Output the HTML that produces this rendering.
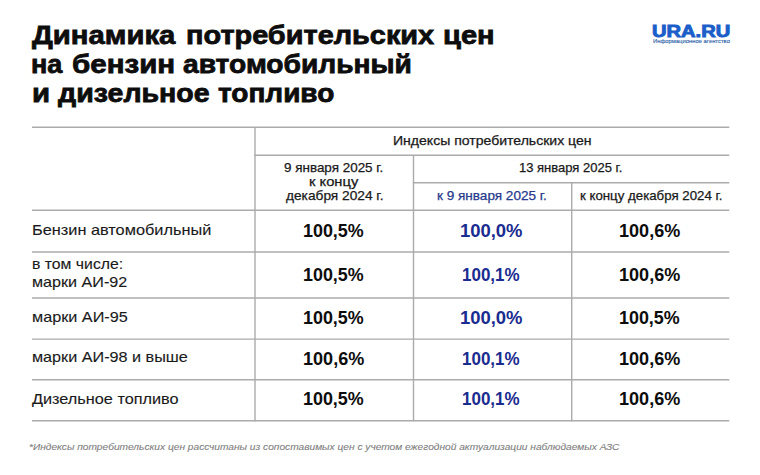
<!DOCTYPE html>
<html><head><meta charset="utf-8"><style>
html,body{margin:0;padding:0;background:#fff;}
body{width:760px;height:475px;position:relative;overflow:hidden;font-family:"Liberation Sans", sans-serif;}
.t{position:absolute;white-space:nowrap;transform-origin:0 0;}
.grid{position:absolute;left:0;top:0;}
.grid line{stroke:#ababab;stroke-width:1.4;}
</style></head><body>
<svg class="grid" width="760" height="475" viewBox="0 0 760 475">
<line x1="32" y1="127.3" x2="729.3" y2="127.3"/>
<line x1="254.3" y1="155.3" x2="729.3" y2="155.3"/>
<line x1="412.8" y1="182.7" x2="729.3" y2="182.7"/>
<line x1="32" y1="210.3" x2="729.3" y2="210.3"/>
<line x1="32" y1="252.0" x2="729.3" y2="252.0"/>
<line x1="32" y1="298.0" x2="729.3" y2="298.0"/>
<line x1="32" y1="339.1" x2="729.3" y2="339.1"/>
<line x1="32" y1="379.7" x2="729.3" y2="379.7"/>
<line x1="32" y1="420.7" x2="729.3" y2="420.7"/>
<line x1="255.0" y1="127.0" x2="255.0" y2="421.4"/>
<line x1="413.5" y1="155.0" x2="413.5" y2="421.4"/>
<line x1="571.7" y1="182.4" x2="571.7" y2="421.4"/>
</svg>
<div id="t1a" class="t" style="left:32.40px;top:21.87px;font-size:26.5px;line-height:26.5px;font-weight:700;font-style:normal;color:#0d0d0d;transform:scaleX(1.1046);-webkit-text-stroke:0.8px #0d0d0d">Динамика</div>
<div id="t1b" class="t" style="left:185.80px;top:21.87px;font-size:26.5px;line-height:26.5px;font-weight:700;font-style:normal;color:#0d0d0d;transform:scaleX(1.0903);-webkit-text-stroke:0.8px #0d0d0d">потребительских</div>
<div id="t1c" class="t" style="left:443.20px;top:21.87px;font-size:26.5px;line-height:26.5px;font-weight:700;font-style:normal;color:#0d0d0d;transform:scaleX(1.0978);-webkit-text-stroke:0.8px #0d0d0d">цен</div>
<div id="t2a" class="t" style="left:31.20px;top:50.57px;font-size:26.5px;line-height:26.5px;font-weight:700;font-style:normal;color:#0d0d0d;transform:scaleX(1.0195);-webkit-text-stroke:0.8px #0d0d0d">на</div>
<div id="t2b" class="t" style="left:72.20px;top:50.57px;font-size:26.5px;line-height:26.5px;font-weight:700;font-style:normal;color:#0d0d0d;transform:scaleX(1.1143);-webkit-text-stroke:0.8px #0d0d0d">бензин</div>
<div id="t2c" class="t" style="left:183.00px;top:50.57px;font-size:26.5px;line-height:26.5px;font-weight:700;font-style:normal;color:#0d0d0d;transform:scaleX(1.0631);-webkit-text-stroke:0.8px #0d0d0d">автомобильный</div>
<div id="t3a" class="t" style="left:32.00px;top:79.67px;font-size:26.5px;line-height:26.5px;font-weight:700;font-style:normal;color:#0d0d0d;transform:scaleX(1.1083);-webkit-text-stroke:0.8px #0d0d0d">и</div>
<div id="t3b" class="t" style="left:57.80px;top:79.67px;font-size:26.5px;line-height:26.5px;font-weight:700;font-style:normal;color:#0d0d0d;transform:scaleX(1.0780);-webkit-text-stroke:0.8px #0d0d0d">дизельное</div>
<div id="t3c" class="t" style="left:218.20px;top:79.67px;font-size:26.5px;line-height:26.5px;font-weight:700;font-style:normal;color:#0d0d0d;transform:scaleX(1.0564);-webkit-text-stroke:0.8px #0d0d0d">топливо</div>
<div id="logo" class="t" style="left:651.80px;top:23.43px;font-size:16.5px;line-height:16.5px;font-weight:700;font-style:normal;color:#1b5ec9;transform:scaleX(1.2190);-webkit-text-stroke:0.9px #1b5ec9">URA.RU</div>
<div id="logo2" class="t" style="left:652.80px;top:40.24px;font-size:4.8px;line-height:4.8px;font-weight:400;font-style:normal;color:#2d5fa8;transform:scaleX(1.2222);-webkit-text-stroke:0.1px #2d5fa8">Информационное агентство</div>
<div id="h1" class="t" style="left:393.00px;top:134.77px;font-size:12.2px;line-height:12.2px;font-weight:400;font-style:normal;color:#1a1a1a;transform:scaleX(1.1520);-webkit-text-stroke:0.25px #1a1a1a">Индексы потребительских цен</div>
<div id="h2a" class="t" style="left:284.00px;top:161.77px;font-size:12.2px;line-height:12.2px;font-weight:400;font-style:normal;color:#1a1a1a;transform:scaleX(1.1023);-webkit-text-stroke:0.25px #1a1a1a">9 января 2025 г.</div>
<div id="h2b" class="t" style="left:309.00px;top:176.37px;font-size:12.2px;line-height:12.2px;font-weight:400;font-style:normal;color:#1a1a1a;transform:scaleX(1.2077);-webkit-text-stroke:0.25px #1a1a1a">к концу</div>
<div id="h2c" class="t" style="left:285.60px;top:190.27px;font-size:12.2px;line-height:12.2px;font-weight:400;font-style:normal;color:#1a1a1a;transform:scaleX(1.1243);-webkit-text-stroke:0.25px #1a1a1a">декабря 2024 г.</div>
<div id="h3" class="t" style="left:519.40px;top:161.77px;font-size:12.2px;line-height:12.2px;font-weight:400;font-style:normal;color:#1a1a1a;transform:scaleX(1.0667);-webkit-text-stroke:0.25px #1a1a1a">13 января 2025 г.</div>
<div id="h4" class="t" style="left:436.80px;top:189.77px;font-size:12.2px;line-height:12.2px;font-weight:400;font-style:normal;color:#273a8c;transform:scaleX(1.1114);-webkit-text-stroke:0.25px #273a8c">к 9 января 2025 г.</div>
<div id="h5" class="t" style="left:579.60px;top:189.77px;font-size:12.2px;line-height:12.2px;font-weight:400;font-style:normal;color:#1a1a1a;transform:scaleX(1.0877);-webkit-text-stroke:0.25px #1a1a1a">к концу декабря 2024 г.</div>
<div id="r1" class="t" style="left:31.60px;top:223.23px;font-size:14.5px;line-height:14.5px;font-weight:400;font-style:normal;color:#1a1a1a;transform:scaleX(1.1253);-webkit-text-stroke:0.12px #1a1a1a">Бензин автомобильный</div>
<div id="r2a" class="t" style="left:31.60px;top:256.83px;font-size:14.5px;line-height:14.5px;font-weight:400;font-style:normal;color:#1a1a1a;transform:scaleX(1.0890);-webkit-text-stroke:0.12px #1a1a1a">в том числе:</div>
<div id="r2b" class="t" style="left:31.60px;top:274.83px;font-size:14.5px;line-height:14.5px;font-weight:400;font-style:normal;color:#1a1a1a;transform:scaleX(1.1119);-webkit-text-stroke:0.12px #1a1a1a">марки АИ-92</div>
<div id="r3" class="t" style="left:31.60px;top:309.63px;font-size:14.5px;line-height:14.5px;font-weight:400;font-style:normal;color:#1a1a1a;transform:scaleX(1.1179);-webkit-text-stroke:0.12px #1a1a1a">марки АИ-95</div>
<div id="r4" class="t" style="left:31.60px;top:350.13px;font-size:14.5px;line-height:14.5px;font-weight:400;font-style:normal;color:#1a1a1a;transform:scaleX(1.1159);-webkit-text-stroke:0.12px #1a1a1a">марки АИ-98 и выше</div>
<div id="r5" class="t" style="left:31.80px;top:392.13px;font-size:14.5px;line-height:14.5px;font-weight:400;font-style:normal;color:#1a1a1a;transform:scaleX(1.1214);-webkit-text-stroke:0.12px #1a1a1a">Дизельное топливо</div>
<div id="fn" class="t" style="left:29.20px;top:442.88px;font-size:9px;line-height:9px;font-weight:400;font-style:italic;color:#808080;transform:scaleX(1.1307);-webkit-text-stroke:0.1px #808080">*Индексы потребительских цен рассчитаны из сопоставимых цен с учетом ежегодной актуализации наблюдаемых АЗС</div>
<div id="v00" class="t" style="left:302.60px;top:221.79px;font-size:18.2px;line-height:18.2px;font-weight:700;font-style:normal;color:#0d0d0d;transform:scaleX(0.9836)">100,5%</div>
<div id="v01" class="t" style="left:460.00px;top:221.79px;font-size:18.2px;line-height:18.2px;font-weight:700;font-style:normal;color:#1a2c8f;transform:scaleX(1.0132)">100,0%</div>
<div id="v02" class="t" style="left:619.00px;top:221.79px;font-size:18.2px;line-height:18.2px;font-weight:700;font-style:normal;color:#0d0d0d;transform:scaleX(0.9935)">100,6%</div>
<div id="v10" class="t" style="left:302.60px;top:265.79px;font-size:18.2px;line-height:18.2px;font-weight:700;font-style:normal;color:#0d0d0d;transform:scaleX(0.9836)">100,5%</div>
<div id="v11" class="t" style="left:462.20px;top:265.79px;font-size:18.2px;line-height:18.2px;font-weight:700;font-style:normal;color:#1a2c8f;transform:scaleX(0.9347)">100,1%</div>
<div id="v12" class="t" style="left:619.00px;top:265.79px;font-size:18.2px;line-height:18.2px;font-weight:700;font-style:normal;color:#0d0d0d;transform:scaleX(0.9935)">100,6%</div>
<div id="v20" class="t" style="left:302.60px;top:309.19px;font-size:18.2px;line-height:18.2px;font-weight:700;font-style:normal;color:#0d0d0d;transform:scaleX(0.9836)">100,5%</div>
<div id="v21" class="t" style="left:460.00px;top:309.19px;font-size:18.2px;line-height:18.2px;font-weight:700;font-style:normal;color:#1a2c8f;transform:scaleX(1.0132)">100,0%</div>
<div id="v22" class="t" style="left:619.40px;top:309.19px;font-size:18.2px;line-height:18.2px;font-weight:700;font-style:normal;color:#0d0d0d;transform:scaleX(0.9836)">100,5%</div>
<div id="v30" class="t" style="left:303.20px;top:349.69px;font-size:18.2px;line-height:18.2px;font-weight:700;font-style:normal;color:#0d0d0d;transform:scaleX(0.9935)">100,6%</div>
<div id="v31" class="t" style="left:462.20px;top:349.69px;font-size:18.2px;line-height:18.2px;font-weight:700;font-style:normal;color:#1a2c8f;transform:scaleX(0.9347)">100,1%</div>
<div id="v32" class="t" style="left:619.00px;top:349.69px;font-size:18.2px;line-height:18.2px;font-weight:700;font-style:normal;color:#0d0d0d;transform:scaleX(0.9935)">100,6%</div>
<div id="v40" class="t" style="left:302.60px;top:390.49px;font-size:18.2px;line-height:18.2px;font-weight:700;font-style:normal;color:#0d0d0d;transform:scaleX(0.9836)">100,5%</div>
<div id="v41" class="t" style="left:462.20px;top:390.49px;font-size:18.2px;line-height:18.2px;font-weight:700;font-style:normal;color:#1a2c8f;transform:scaleX(0.9347)">100,1%</div>
<div id="v42" class="t" style="left:619.00px;top:390.49px;font-size:18.2px;line-height:18.2px;font-weight:700;font-style:normal;color:#0d0d0d;transform:scaleX(0.9935)">100,6%</div>
</body></html>
